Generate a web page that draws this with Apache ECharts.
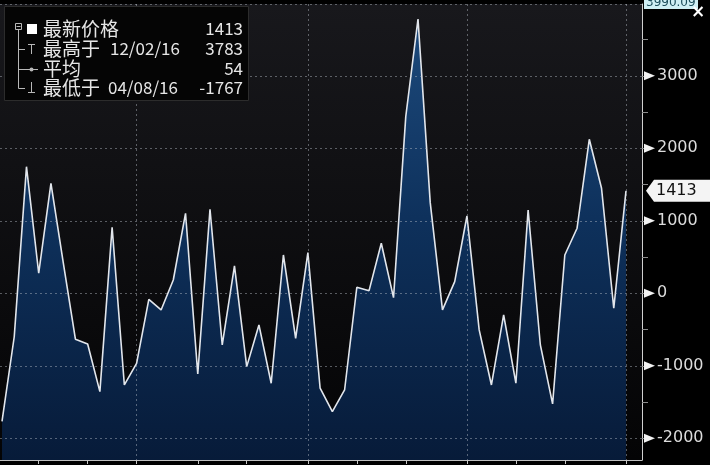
<!DOCTYPE html>
<html><head><meta charset="utf-8">
<script src="https://cdn.jsdelivr.net/npm/echarts@6/dist/echarts.min.js"></script>
<style>html,body{margin:0;padding:0;background:#000;}#c{width:710px;height:465px;}</style>
</head><body><div id="c"></div>
<script>
// Weekly observations (Fridays)
const dates = [
  '2016-04-08','2016-04-15','2016-04-22','2016-04-29',
  '2016-05-06','2016-05-13','2016-05-20','2016-05-27',
  '2016-06-03','2016-06-10','2016-06-17','2016-06-24',
  '2016-07-01','2016-07-08','2016-07-15','2016-07-22','2016-07-29',
  '2016-08-05','2016-08-12','2016-08-19','2016-08-26',
  '2016-09-02','2016-09-09','2016-09-16','2016-09-23','2016-09-30',
  '2016-10-07','2016-10-14','2016-10-21','2016-10-28',
  '2016-11-04','2016-11-11','2016-11-18','2016-11-25',
  '2016-12-02','2016-12-09','2016-12-16','2016-12-23','2016-12-30',
  '2017-01-06','2017-01-13','2017-01-20','2017-01-27',
  '2017-02-03','2017-02-10','2017-02-17','2017-02-24',
  '2017-03-03','2017-03-10','2017-03-17','2017-03-24','2017-03-31'
];
const values = [
  -1767, -600, 1746, 276, 1517, 430, -634, -699, -1357, 910,
  -1265, -966, -83, -230, 183, 1103, -1113, 1159, -713, 377,
  -1012, -437, -1241, 528, -621, 560, -1310, -1633, -1334, 83,
  36, 690, -60, 2436, 3783, 1250, -230, 160, 1066, -506,
  -1265, -299, -1241, 1149, -713, -1527, 528, 897, 2124, 1448,
  -207, 1413
];
const yLabelValues = [-2000, -1000, 0, 1000, 2000, 3000];
const yTickValues = [-2000, -1500, -1000, -500, 0, 500, 1000, 1500, 2000, 2500, 3000, 3500];
const yGridValues = [-2000, -1000, 0, 1000, 2000, 3000, 3990.09];
const yMin = -2300;
const yMax = 3990.09;
const topLabel = '3990.09';
// Legend statistics
const legendNames = ['最新价格', '最高于', '平均', '最低于'];
const legendDates = ['', '12/02/16', '', '04/08/16'];
const legendValues = ['1413', '3783', '54', '-1767'];
const lastPrice = 1413;

const chart = echarts.init(document.getElementById('c'), null, {renderer: 'canvas'});
const isMonthEnd = i => i === dates.length - 1 || dates[i + 1].slice(5, 7) !== dates[i].slice(5, 7);
const isQuarterEnd = i => isMonthEnd(i) && ['03', '06', '09', '12'].indexOf(dates[i].slice(5, 7)) >= 0;
const gridLine = {color: 'rgba(185,190,200,0.45)', width: 1, type: [2, 3]};

chart.setOption({
  backgroundColor: '#000',
  animation: false,
  grid: [
    {left: 2, right: 84, top: 4, bottom: 5, outerBoundsMode: 'none', containLabel: false},
    {left: 0, right: 68, top: 4, bottom: 5, outerBoundsMode: 'none', containLabel: false, show: true, borderWidth: 0,
      backgroundColor: {type: 'linear', x: 0, y: 0, x2: 0, y2: 1,
        colorStops: [{offset: 0, color: '#18181c'}, {offset: 1, color: '#040405'}]}}
  ],
  xAxis: [
    {type: 'category', gridIndex: 0, data: dates, boundaryGap: false, z: 5,
      axisLine: {show: false, onZero: false},
      axisTick: {show: true, interval: (i) => isMonthEnd(i), length: 4, lineStyle: {color: '#c8c8c8'}},
      axisLabel: {show: false},
      splitLine: {show: true, interval: (i) => isQuarterEnd(i), lineStyle: gridLine}},
    {type: 'value', gridIndex: 1, min: 0, max: 1, z: 5,
      axisLine: {show: true, onZero: false, lineStyle: {color: '#bfbfbf', width: 1}},
      axisTick: {show: false}, axisLabel: {show: false}, splitLine: {show: false}}
  ],
  yAxis: [
    {type: 'value', gridIndex: 0, position: 'right', offset: 16, min: yMin, max: yMax, z: 5,
      axisLine: {show: true, onZero: false, lineStyle: {color: '#d0d0d0', width: 1}},
      axisTick: {show: true, customValues: yTickValues, length: 6, lineStyle: {color: '#8c8c8c'}},
      axisLabel: {customValues: yLabelValues, color: '#dcdcdc', fontSize: 16, fontFamily: 'DejaVu Sans', margin: 15,
        formatter: (v) => String(v)},
      splitLine: {show: false}},
    {type: 'value', gridIndex: 1, min: yMin, max: yMax, z: 5,
      axisLine: {show: false, onZero: false},
      axisTick: {show: false, customValues: yGridValues},
      axisLabel: {show: false},
      splitLine: {show: true, lineStyle: gridLine}}
  ],
  series: [{
    type: 'line', xAxisIndex: 0, yAxisIndex: 0, data: values,
    symbol: 'none', smooth: false, z: 2,
    lineStyle: {color: '#e2e6ec', width: 1.6},
    areaStyle: {origin: 'start', opacity: 1,
      color: {type: 'linear', x: 0, y: 0, x2: 0, y2: 1,
        colorStops: [{offset: 0, color: '#1d4a7c'}, {offset: 0.45, color: '#0e315c'}, {offset: 1, color: '#071b39'}]}}
  }]
});

// Overlay elements positioned through the axis scale
const g = [];
const axisX = 642;
yLabelValues.forEach(v => {
  const y = chart.convertToPixel({yAxisIndex: 0}, v);
  g.push({type: 'polygon', z: 10, shape: {points: [[axisX + 2, y - 4.5], [axisX + 13, y], [axisX + 2, y + 4.5]]}, style: {fill: '#f2f2f2'}});
});
const ly = chart.convertToPixel({yAxisIndex: 0}, lastPrice);
g.push({type: 'polygon', z: 10, shape: {points: [[646, ly], [654, ly - 11], [712, ly - 11], [712, ly + 11], [654, ly + 11]]}, style: {fill: '#f4f4f4'}});
g.push({type: 'text', z: 11, x: 656, y: ly, style: {text: String(lastPrice), fill: '#111', font: '16px "DejaVu Sans"', verticalAlign: 'middle'}});

// top right max tag
g.push({type: 'rect', z: 10, shape: {x: 644, y: -4, width: 54, height: 13}, style: {fill: '#cfeff4'}});
g.push({type: 'text', z: 11, x: 646, y: 3, style: {text: topLabel, fill: '#1d4e5c', font: '12px "DejaVu Sans"', verticalAlign: 'middle'}});
g.push({type: 'text', z: 11, x: 698, y: 13, style: {text: '×', fill: '#ffffff', font: 'bold 17px "DejaVu Sans"', align: 'center', verticalAlign: 'middle'}});

// legend box
const rowY = [29, 49, 69, 88];
const iconC = '#b8b8b8';
g.push({type: 'rect', z: 10, shape: {x: 4.5, y: 6.5, width: 244, height: 94}, style: {fill: '#050505', stroke: '#2c2c2c', lineWidth: 1}});
g.push({type: 'rect', z: 11, shape: {x: 15.5, y: 23.5, width: 6, height: 6}, style: {fill: 'none', stroke: iconC, lineWidth: 1}});
g.push({type: 'line', z: 11, shape: {x1: 16.5, y1: 26.5, x2: 20.5, y2: 26.5}, style: {stroke: iconC, lineWidth: 1}});
g.push({type: 'line', z: 11, shape: {x1: 18.5, y1: 30, x2: 18.5, y2: 88.5}, style: {stroke: iconC, lineWidth: 1}});
[1, 2, 3].forEach(k => g.push({type: 'line', z: 11, shape: {x1: 18.5, y1: rowY[k] + 0.5, x2: 25, y2: rowY[k] + 0.5}, style: {stroke: iconC, lineWidth: 1}}));
g.push({type: 'rect', z: 11, shape: {x: 27, y: 24, width: 10, height: 10}, style: {fill: '#ffffff'}});
// high icon
g.push({type: 'line', z: 11, shape: {x1: 28, y1: 44.5, x2: 35, y2: 44.5}, style: {stroke: iconC, lineWidth: 1}});
g.push({type: 'line', z: 11, shape: {x1: 31.5, y1: 44.5, x2: 31.5, y2: 54}, style: {stroke: iconC, lineWidth: 1}});
// average icon
g.push({type: 'line', z: 11, shape: {x1: 25, y1: 69.5, x2: 38, y2: 69.5}, style: {stroke: iconC, lineWidth: 1}});
g.push({type: 'circle', z: 11, shape: {cx: 31.5, cy: 69.5, r: 2}, style: {fill: iconC}});
// low icon
g.push({type: 'line', z: 11, shape: {x1: 31.5, y1: 82, x2: 31.5, y2: 92.5}, style: {stroke: iconC, lineWidth: 1}});
g.push({type: 'line', z: 11, shape: {x1: 28, y1: 92.5, x2: 35, y2: 92.5}, style: {stroke: iconC, lineWidth: 1}});
const dateX = [0, 110, 0, 108];
legendNames.forEach((n, k) => {
  g.push({type: 'text', z: 11, x: 43, y: rowY[k], style: {text: n, fill: '#e6e6e6', font: '19px "Noto Sans CJK SC"', verticalAlign: 'middle'}});
  if (legendDates[k]) g.push({type: 'text', z: 11, x: dateX[k], y: rowY[k], style: {text: legendDates[k], fill: '#e6e6e6', font: '17px "Noto Sans CJK SC"', verticalAlign: 'middle'}});
  g.push({type: 'text', z: 11, x: 243, y: rowY[k], style: {text: legendValues[k], fill: '#e6e6e6', font: '17px "Noto Sans CJK SC"', align: 'right', verticalAlign: 'middle'}});
});
chart.setOption({graphic: g});
</script></body></html>
